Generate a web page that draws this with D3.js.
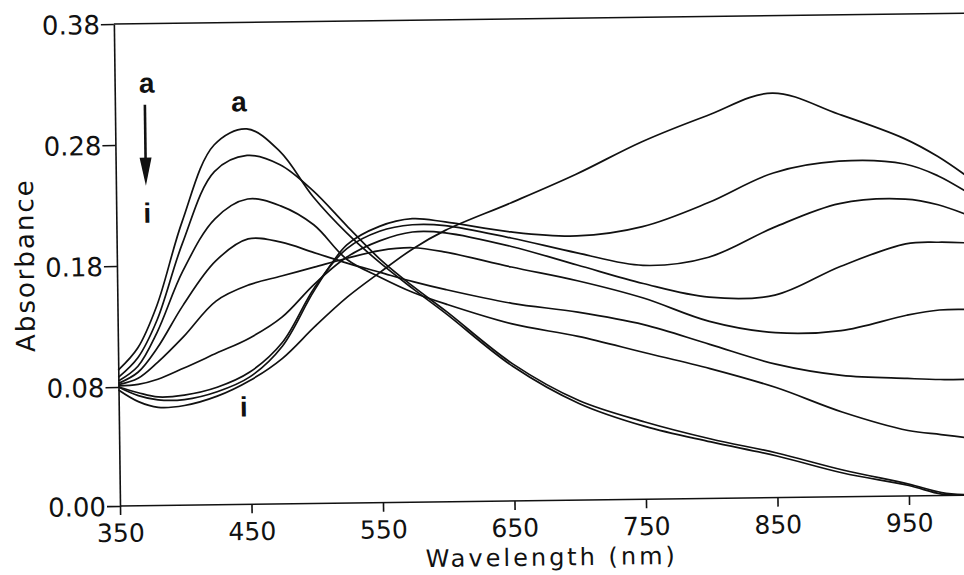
<!DOCTYPE html>
<html>
<head>
<meta charset="utf-8">
<script src="https://cdn.jsdelivr.net/npm/d3@7"></script>
<style>
  body { margin: 0; background: #fff; }
  svg { display: block; }
</style>
</head>
<body>
<div class="main"></div>
<script>
const width = 964;
const height = 575;

// wavelength grid (nm), shared by every spectrum
const wavelengths = [350, 365, 380, 400, 425, 450, 475, 500, 525, 550, 575, 600, 650, 700, 750, 800, 850, 900, 950, 975, 1000];

// absorbance, spectra a -> i
const specA = [0.094, 0.112, 0.147, 0.216, 0.279, 0.292, 0.273, 0.235, 0.205, 0.180, 0.158, 0.137, 0.093, 0.065, 0.049, 0.038, 0.028, 0.016, 0.007, 0.001, 0.000];
const specB = [0.088, 0.104, 0.135, 0.198, 0.257, 0.270, 0.262, 0.240, 0.211, 0.183, 0.160, 0.139, 0.095, 0.067, 0.052, 0.040, 0.030, 0.018, 0.008, 0.002, 0.000];
const specC = [0.085, 0.097, 0.125, 0.175, 0.218, 0.234, 0.228, 0.212, 0.183, 0.168, 0.155, 0.145, 0.128, 0.117, 0.103, 0.089, 0.074, 0.057, 0.044, 0.041, 0.038];
const specD = [0.083, 0.092, 0.112, 0.147, 0.183, 0.201, 0.198, 0.189, 0.180, 0.172, 0.164, 0.157, 0.145, 0.137, 0.126, 0.109, 0.092, 0.082, 0.079, 0.078, 0.078];
const specE = [0.082, 0.087, 0.100, 0.121, 0.150, 0.163, 0.170, 0.177, 0.184, 0.190, 0.192, 0.188, 0.175, 0.163, 0.148, 0.128, 0.118, 0.119, 0.131, 0.135, 0.135];
const specF = [0.081, 0.082, 0.086, 0.095, 0.107, 0.119, 0.136, 0.163, 0.185, 0.198, 0.205, 0.204, 0.192, 0.176, 0.160, 0.148, 0.149, 0.172, 0.190, 0.191, 0.190];
const specG = [0.080, 0.076, 0.073, 0.074, 0.079, 0.091, 0.115, 0.160, 0.192, 0.206, 0.211, 0.210, 0.199, 0.186, 0.175, 0.181, 0.205, 0.224, 0.227, 0.222, 0.212];
const specH = [0.080, 0.074, 0.071, 0.071, 0.076, 0.087, 0.112, 0.158, 0.195, 0.210, 0.216, 0.213, 0.204, 0.200, 0.207, 0.226, 0.250, 0.259, 0.256, 0.246, 0.230];
const specI = [0.078, 0.070, 0.066, 0.067, 0.073, 0.084, 0.102, 0.128, 0.152, 0.172, 0.191, 0.206, 0.228, 0.251, 0.277, 0.298, 0.316, 0.298, 0.277, 0.262, 0.243];

const spectra = [specA, specB, specC, specD, specE, specF, specG, specH, specI];

const xTicks = [350, 450, 550, 650, 750, 850, 950];
const yTicks = [0.00, 0.08, 0.18, 0.28, 0.38];

const labelFont = "DejaVu Sans";

const x = d3.scaleLinear()
  .domain([350, 950])
  .range([120, 909]);

// the printed axis is not evenly graduated: 0.00 -> 0.08 takes a full step
const y = d3.scaleLinear()
  .domain([0, 0.08, 0.38])
  .range([506, 387, 24]);

const svg = d3.select(".main")
  .append("svg")
    .attr("width", width)
    .attr("height", height)
    .attr("viewBox", [0, 0, width, height]);

svg.append("rect")
  .attr("width", width)
  .attr("height", height)
  .attr("fill", "#fff");

// scanned page is slightly tilted
const chart = svg.append("g")
  .attr("transform", "rotate(-0.73, 120, 506)");

// frame: bottom and top lines run off the right edge
chart.append("line")
  .attr("x1", x(350)).attr("x2", x(1010))
  .attr("y1", y(0)).attr("y2", y(0))
  .attr("stroke", "#111").attr("stroke-width", 1.6);
chart.append("line")
  .attr("x1", x(350)).attr("x2", x(1010))
  .attr("y1", y(0.38)).attr("y2", y(0.38))
  .attr("stroke", "#111").attr("stroke-width", 1.6);

// Y axis
const yAxis = chart.append("g")
  .attr("transform", `translate(${x(350)},0)`)
  .call(d3.axisLeft(y)
    .tickValues(yTicks)
    .tickSize(13)
    .tickSizeOuter(0)
    .tickPadding(1)
    .tickFormat(d3.format(".2f")));
yAxis.select(".domain").attr("stroke", "#111").attr("stroke-width", 1.6);
yAxis.selectAll(".tick line").attr("stroke", "#111").attr("stroke-width", 1.6);
yAxis.selectAll(".tick text")
  .attr("fill", "#111")
  .attr("font-family", labelFont)
  .attr("font-size", 26)
  .attr("dy", "0.36em");

// X axis
const xAxis = chart.append("g")
  .attr("transform", `translate(0,${y(0)})`)
  .call(d3.axisBottom(x)
    .tickValues(xTicks)
    .tickSize(9)
    .tickSizeOuter(0)
    .tickPadding(9));
xAxis.select(".domain").remove();
xAxis.selectAll(".tick line").attr("stroke", "#111").attr("stroke-width", 1.6);
xAxis.selectAll(".tick text")
  .attr("fill", "#111")
  .attr("font-family", labelFont)
  .attr("font-size", 25);

// axis titles
chart.append("text")
  .text("Wavelength (nm)")
  .attr("x", 551)
  .attr("y", 571)
  .attr("text-anchor", "middle")
  .attr("font-family", labelFont)
  .attr("font-size", 24)
  .attr("letter-spacing", 3)
  .attr("fill", "#111");

chart.append("text")
  .text("Absorbance")
  .attr("transform", "translate(37,264) rotate(-90)")
  .attr("text-anchor", "middle")
  .attr("font-family", labelFont)
  .attr("font-size", 26)
  .attr("letter-spacing", 2)
  .attr("fill", "#111");

// spectra
const line = d3.line()
  .x((d, i) => x(wavelengths[i]))
  .y((d) => y(d))
  .curve(d3.curveCatmullRom.alpha(0.5));

chart.append("g")
  .selectAll("path")
  .data(spectra)
  .join("path")
    .attr("d", line)
    .attr("fill", "none")
    .attr("stroke", "#111")
    .attr("stroke-width", 1.7);

// a -> i annotation
const note = chart.append("g")
  .attr("font-family", "Liberation Sans")
  .attr("font-weight", "bold")
  .attr("fill", "#111")
  .attr("text-anchor", "middle");

note.append("text").text("a").attr("x", 152).attr("y", 93).attr("font-size", 28);
note.append("text").text("i").attr("x", 151).attr("y", 223).attr("font-size", 28);
note.append("text").text("a").attr("x", 244).attr("y", 113).attr("font-size", 28);
note.append("text").text("i").attr("x", 245).attr("y", 418).attr("font-size", 28);

note.append("line")
  .attr("x1", 150).attr("x2", 150)
  .attr("y1", 105).attr("y2", 165)
  .attr("stroke", "#111").attr("stroke-width", 2.6);
note.append("path")
  .attr("d", "M144,158 L156,158 L150,186 Z")
  .attr("fill", "#111");
</script>
</body>
</html>
